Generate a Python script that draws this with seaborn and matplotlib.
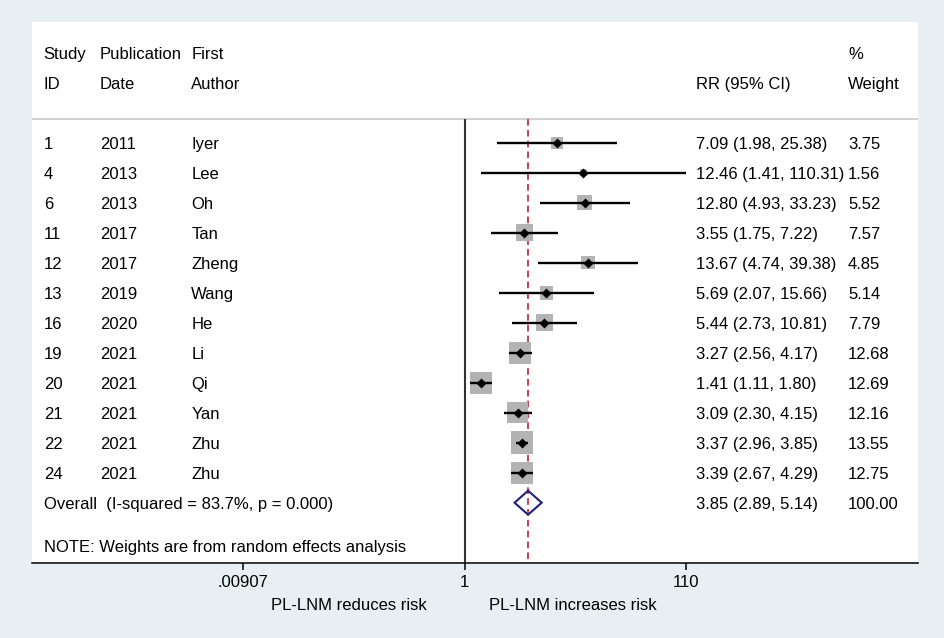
import numpy as np
import pandas as pd
import seaborn as sns
import matplotlib.pyplot as plt
from matplotlib.ticker import NullLocator
from matplotlib.transforms import blended_transform_factory

# study rows
study_id = ['1', '4', '6', '11', '12', '13', '16', '19', '20', '21', '22', '24']
pub_date = ['2011', '2013', '2013', '2017', '2017', '2019', '2020', '2021', '2021', '2021', '2021', '2021']
author = ['Iyer', 'Lee', 'Oh', 'Tan', 'Zheng', 'Wang', 'He', 'Li', 'Qi', 'Yan', 'Zhu', 'Zhu']
rr = [7.09, 12.46, 12.80, 3.55, 13.67, 5.69, 5.44, 3.27, 1.41, 3.09, 3.37, 3.39]
ci_low = [1.98, 1.41, 4.93, 1.75, 4.74, 2.07, 2.73, 2.56, 1.11, 2.30, 2.96, 2.67]
ci_high = [25.38, 110.31, 33.23, 7.22, 39.38, 15.66, 10.81, 4.17, 1.80, 4.15, 3.85, 4.29]
weight = [3.75, 1.56, 5.52, 7.57, 4.85, 5.14, 7.79, 12.68, 12.69, 12.16, 13.55, 12.75]

# pooled estimate
overall_rr = 3.85
overall_low = 2.89
overall_high = 5.14
overall_weight = 100.00
overall_label = 'Overall  (I-squared = 83.7%, p = 0.000)'
note = 'NOTE: Weights are from random effects analysis'

x_ticks = [0.00907, 1, 110]
x_ticklabels = ['.00907', '1', '110']

df = pd.DataFrame({'id': study_id, 'date': pub_date, 'author': author,
                   'rr': rr, 'low': ci_low, 'high': ci_high, 'weight': weight})
df['row'] = np.arange(len(df))
n = len(df)

sns.set_theme(style='white')
plt.rcParams['font.family'] = ['Liberation Sans', 'DejaVu Sans']
FS = 12

bg = '#e8eff2'
fig = plt.figure(figsize=(9.45, 6.38), dpi=100, facecolor=bg)
ax = fig.add_axes([32 / 945, 75 / 638, 886 / 945, 541 / 638])
ax.set_facecolor('white')
ax.set_xscale('log')
ax.set_xlim(10 ** -3.989, 10 ** 4.181)
y_bottom = n + 2.01
ax.set_ylim(y_bottom, -4.02)

sep = -0.78
ax.axhline(sep, color='#c8c8c8', lw=1.2, zorder=1)
ax.vlines(1, sep, y_bottom, colors='#333333', lw=1.5, zorder=1)
ax.vlines(overall_rr, sep, y_bottom, colors='#b2283c', lw=1.2,
          linestyles=(0, (4, 2.5)), zorder=1)

# weight squares (area proportional to weight)
k = 19.5
wmin, wmax = min(weight), max(weight)
sns.scatterplot(data=df, x='rr', y='row', size='weight', sizes=(k * wmin, k * wmax),
                size_norm=(wmin, wmax), marker='s', color='#b3b3b3', linewidth=0,
                legend=False, ax=ax, zorder=2)
ax.hlines(df['row'], df['low'], df['high'], colors='black', lw=1.7, zorder=3)
sns.scatterplot(data=df, x='rr', y='row', marker='D', s=26, color='black',
                linewidth=0, legend=False, ax=ax, zorder=4)

# pooled diamond
h = 0.4
ax.fill([overall_low, overall_rr, overall_high, overall_rr],
        [n, n - h, n, n + h], facecolor='none', edgecolor='#1f1f7a', lw=1.5, zorder=4)

ax.set_xlabel('')
ax.set_ylabel('')
ax.set_yticks([])
ax.set_xticks(x_ticks)
ax.set_xticklabels(x_ticklabels)
ax.xaxis.set_minor_locator(NullLocator())
ax.tick_params(axis='x', direction='out', length=5, width=1.1, pad=3.5,
               labelsize=FS, colors='black', bottom=True)
for s in ['top', 'left', 'right']:
    ax.spines[s].set_visible(False)
ax.spines['bottom'].set_color('black')
ax.spines['bottom'].set_linewidth(1.1)

# text columns
tr = blended_transform_factory(ax.transAxes, ax.transData)
c_id, c_date, c_auth, c_rr, c_w = 0.0132, 0.0767, 0.1798, 0.750, 0.921
off = 0.2


def put(x, y, s):
    return ax.text(x, y + off, s, transform=tr, ha='left', va='baseline',
                   fontsize=FS, color='black')


put(c_id, -3, 'Study')
put(c_date, -3, 'Publication')
put(c_auth, -3, 'First')
put(c_w, -3, '%')
put(c_id, -2, 'ID')
put(c_date, -2, 'Date')
put(c_auth, -2, 'Author')
put(c_rr, -2, 'RR (95% CI)')
put(c_w, -2, 'Weight')

renderer = fig.canvas.get_renderer()
inv = ax.transAxes.inverted()
for r in df.itertuples():
    put(c_id, r.row, r.id)
    put(c_date, r.row, r.date)
    put(c_auth, r.row, r.author)
    t = put(c_rr, r.row, f'{r.rr:.2f} ({r.low:.2f}, {r.high:.2f})')
    x_end = inv.transform((t.get_window_extent(renderer=renderer).x1, 0))[0]
    put(max(c_w, x_end), r.row, f'{r.weight:.2f}')

put(c_id, n, overall_label)
put(c_rr, n, f'{overall_rr:.2f} ({overall_low:.2f}, {overall_high:.2f})')
put(c_w, n, f'{overall_weight:.2f}')
put(c_id, n + 1.45, note)

ax.text(0.4458, -0.0869, 'PL-LNM reduces risk', transform=ax.transAxes,
        ha='right', va='baseline', fontsize=FS, color='black')
ax.text(0.5158, -0.0869, 'PL-LNM increases risk', transform=ax.transAxes,
        ha='left', va='baseline', fontsize=FS, color='black')

fig.savefig('out.png', dpi=100, facecolor=bg)
